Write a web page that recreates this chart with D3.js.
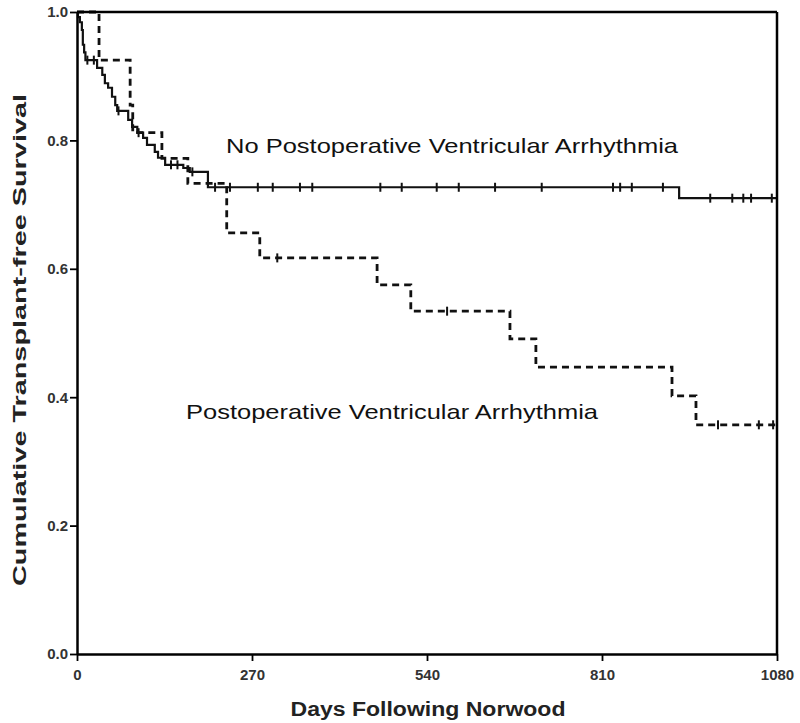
<!DOCTYPE html>
<html>
<head>
<meta charset="utf-8">
<script src="https://cdn.jsdelivr.net/npm/d3@7"></script>
<style>
  html, body { margin: 0; padding: 0; background: #fff; }
  svg { display: block; }
</style>
</head>
<body>
<svg id="chart" width="800" height="723"></svg>
<script>
// ---- Data ----
const xTicks = [0, 270, 540, 810, 1080];
const yTicks = [0.0, 0.2, 0.4, 0.6, 0.8, 1.0];

// No postoperative ventricular arrhythmia (solid)
const noArrTime = [0, 1.5, 4.5, 7.5, 9, 11, 13, 31, 39, 43, 48, 54, 59, 62, 79, 85, 93, 102, 108, 120, 125, 136, 164, 174, 202, 929, 1080];
const noArrSurv = [1.0, 0.992, 0.984, 0.972, 0.949, 0.937, 0.925, 0.913, 0.902, 0.889, 0.882, 0.868, 0.855, 0.846, 0.832, 0.821, 0.812, 0.804, 0.793, 0.782, 0.773, 0.762, 0.757, 0.751, 0.727, 0.710, 0.710];
const noArrCensor = [16, 26, 64, 95, 145, 155, 178, 213, 236, 279, 302, 344, 363, 468, 501, 555, 589, 645, 717, 827, 838, 856, 904, 977, 1011, 1028, 1040, 1072];

// Postoperative ventricular arrhythmia (dashed)
const arrTime = [0, 34, 82, 86, 131, 171, 231, 282, 463, 515, 668, 708, 918, 955, 1080];
const arrSurv = [1.0, 0.925, 0.855, 0.812, 0.772, 0.733, 0.656, 0.617, 0.575, 0.534, 0.491, 0.447, 0.402, 0.357, 0.357];
const arrCensor = [309, 571, 989, 1052, 1074];

const labelNoArr = "No Postoperative Ventricular Arrhythmia";
const labelArr = "Postoperative Ventricular Arrhythmia";
const xTitle = "Days Following Norwood";
const yTitle = "Cumulative Transplant-free Survival";

// ---- Chart ----
const svg = d3.select("#chart");
const x = d3.scaleLinear().domain([0, 1080]).range([77, 777]);
const y = d3.scaleLinear().domain([0, 1]).range([654, 12]);

function survAt(times, surv, t) {
  let v = surv[0];
  for (let i = 0; i < times.length; i++) { if (times[i] <= t) v = surv[i]; }
  return v;
}

const line = d3.line().x(d => x(d[0])).y(d => y(d[1])).curve(d3.curveStepAfter);
const noArrPts = noArrTime.map((t, i) => [t, noArrSurv[i]]);
const arrPts = arrTime.map((t, i) => [t, arrSurv[i]]);

// curves
svg.append("path").attr("d", line(arrPts))
  .attr("fill", "none").attr("stroke", "#111").attr("stroke-width", 2.8)
  .attr("stroke-dasharray", "7,5");
svg.append("path").attr("d", line(noArrPts))
  .attr("fill", "none").attr("stroke", "#111").attr("stroke-width", 2.2);

// censor marks
svg.append("g").selectAll("line").data(noArrCensor).join("line")
  .attr("x1", d => x(d)).attr("x2", d => x(d))
  .attr("y1", d => y(survAt(noArrTime, noArrSurv, d)) - 4.5)
  .attr("y2", d => y(survAt(noArrTime, noArrSurv, d)) + 4.5)
  .attr("stroke", "#111").attr("stroke-width", 2);
svg.append("g").selectAll("line").data(arrCensor).join("line")
  .attr("x1", d => x(d)).attr("x2", d => x(d))
  .attr("y1", d => y(survAt(arrTime, arrSurv, d)) - 4.5)
  .attr("y2", d => y(survAt(arrTime, arrSurv, d)) + 4.5)
  .attr("stroke", "#111").attr("stroke-width", 2);

// frame (top and right)
svg.append("line").attr("x1", x(0)).attr("x2", x(1080)).attr("y1", y(1)).attr("y2", y(1))
  .attr("stroke", "#000").attr("stroke-width", 2.5);
svg.append("line").attr("x1", x(1080)).attr("x2", x(1080)).attr("y1", y(1)).attr("y2", y(0))
  .attr("stroke", "#000").attr("stroke-width", 2.5);

// axes
const xAxis = d3.axisBottom(x).tickValues(xTicks).tickFormat(d3.format("d")).tickSize(7).tickSizeOuter(0);
const yAxis = d3.axisLeft(y).tickValues(yTicks).tickFormat(d3.format(".1f")).tickSize(7).tickSizeOuter(0);

const gx = svg.append("g").attr("transform", `translate(0,${y(0)})`).call(xAxis);
const gy = svg.append("g").attr("transform", `translate(${x(0)},0)`).call(yAxis);
[gx, gy].forEach(g => {
  g.select(".domain").attr("stroke", "#000").attr("stroke-width", 2.5);
  g.selectAll(".tick line").attr("stroke", "#000").attr("stroke-width", 1.8);
  g.selectAll("text").attr("font-family", "'Liberation Sans Narrow', 'Liberation Sans', Arial, sans-serif")
    .attr("font-size", 15).attr("font-weight", "bold").attr("fill", "#333");
});
gx.selectAll("text").attr("dy", "0.71em").attr("y", 15);
gy.selectAll("text").attr("x", -9);

// axis titles
svg.append("text").attr("x", 428).attr("y", 716).attr("text-anchor", "middle")
  .attr("font-family", "'Liberation Sans', Arial, sans-serif").attr("font-weight", "bold")
  .attr("font-size", 20).attr("fill", "#222")
  .attr("textLength", 275).attr("lengthAdjust", "spacingAndGlyphs").text(xTitle);
svg.append("text").attr("transform", "translate(26,340) rotate(-90)").attr("text-anchor", "middle")
  .attr("font-family", "'Liberation Sans', Arial, sans-serif").attr("font-weight", "bold")
  .attr("font-size", 19).attr("fill", "#222")
  .attr("textLength", 492).attr("lengthAdjust", "spacingAndGlyphs").text(yTitle);

// curve labels
svg.append("text").attr("x", 226).attr("y", 153)
  .attr("font-family", "'Liberation Sans', Arial, sans-serif").attr("font-size", 21).attr("fill", "#111")
  .attr("textLength", 452).attr("lengthAdjust", "spacingAndGlyphs").text(labelNoArr);
svg.append("text").attr("x", 186).attr("y", 419)
  .attr("font-family", "'Liberation Sans', Arial, sans-serif").attr("font-size", 21).attr("fill", "#111")
  .attr("textLength", 412).attr("lengthAdjust", "spacingAndGlyphs").text(labelArr);
</script>
</body>
</html>
